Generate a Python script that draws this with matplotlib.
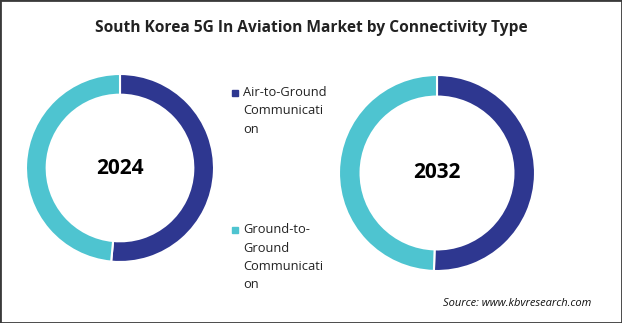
# South Korea 5G in aviation - donut pair
import matplotlib.pyplot as plt
from matplotlib.patches import Rectangle

segments = ["Air-to-Ground\nCommunicati\non", "Ground-to-\nGround\nCommunicati\non"]
share_2024 = [51.5, 48.5]
share_2032 = [50.5, 49.5]
years = ["2024", "2032"]
colors = ["#2E3790", "#4EC4D0"]

W, H = 622, 323
fig = plt.figure(figsize=(W / 100, H / 100), dpi=100)

def px_axes(x, y_top, w, h):
    return fig.add_axes([x / W, 1 - (y_top + h) / H, w / W, h / H])

def donut(ax, vals, label):
    ax.pie(vals, colors=colors, startangle=90, counterclock=False,
           wedgeprops=dict(width=0.22, edgecolor="white", linewidth=1.5))
    ax.set_xlim(-1, 1)
    ax.set_ylim(-1, 1)
    ax.set_aspect("equal")
    ax.text(0, 0, label, ha="center", va="center", fontsize=15,
            fontweight="bold", family="Open Sans", color="black")

donut(px_axes(26, 74, 188, 188), share_2024, years[0])
donut(px_axes(339, 75, 196, 196), share_2032, years[1])

fig.text(0.5, 1 - 28 / H, "South Korea 5G In Aviation Market by Connectivity Type",
         ha="center", va="center", fontsize=11.2, fontweight="bold",
         family="Open Sans", color="#222222")

# legend
for lab, c, ytop in zip(segments, colors, [93, 230]):
    fig.patches.append(Rectangle((232 / W, 1 - (ytop + 3) / H), 6 / W, 6 / H,
                                 transform=fig.transFigure, color=c))
    fig.text(243 / W, 1 - (ytop - 7) / H, lab, ha="left", va="top",
             fontsize=9.3, family="Open Sans", color="#222222", linespacing=1.55)

fig.text(591 / W, 1 - 303 / H, "Source: www.kbvresearch.com", ha="right",
         va="center", fontsize=8, style="italic", family="Open Sans",
         color="#111111")

fig.patches.append(Rectangle((0, 0), 1, 1, transform=fig.transFigure,
                             fill=False, edgecolor="#3a3a3a", linewidth=2))

fig.savefig("out.png", dpi=100)
